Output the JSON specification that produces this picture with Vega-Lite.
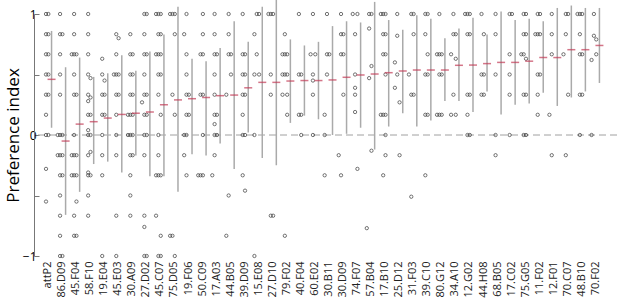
{
  "$schema": "https://vega.github.io/schema/vega-lite/v6.json",
  "width": 583,
  "height": 242,
  "autosize": "none",
  "padding": {"left": 34, "top": 14, "right": 0, "bottom": 50},
  "background": "white",
  "config": {
    "view": {"stroke": null},
    "axisX": {"labelAngle": -90, "ticks": false, "domain": false, "labelPadding": 5, "labelFont": "Open Sans", "labelFontSize": 11, "labelColor": "#222", "grid": false},
    "axisY": {"grid": false, "tickSize": -5, "tickColor": "#777", "domainColor": "#777", "labelFont": "Open Sans", "labelFontSize": 12, "labelColor": "#000", "labelPadding": 3, "titleFont": "Open Sans", "titleFontSize": 17, "titleFontWeight": "normal", "titleColor": "#000", "titleX": -21, "titleY": 121, "titleAngle": -90, "titleAlign": "center", "titleBaseline": "middle"}
  },
  "datasets": {
    "sum": [
      {"g":"attP2","m":0.46,"lo":0.06,"hi":0.86},
      {"g":"86.D09","m":-0.05,"lo":-0.66,"hi":0.56},
      {"g":"45.F04","m":0.09,"lo":-0.47,"hi":0.64},
      {"g":"58.F10","m":0.11,"lo":-0.24,"hi":0.48},
      {"g":"19.E04","m":0.14,"lo":-0.22,"hi":0.51},
      {"g":"45.E03","m":0.17,"lo":-0.31,"hi":0.66},
      {"g":"30.A09","m":0.18,"lo":-0.17,"hi":0.53},
      {"g":"27.D02","m":0.19,"lo":-0.34,"hi":0.69},
      {"g":"45.C07","m":0.25,"lo":-0.34,"hi":0.83},
      {"g":"75.D05","m":0.29,"lo":-0.47,"hi":1.06},
      {"g":"19.F06","m":0.30,"lo":-0.16,"hi":0.63},
      {"g":"50.C09","m":0.31,"lo":-0.17,"hi":0.61},
      {"g":"17.A03","m":0.325,"lo":-0.07,"hi":0.72},
      {"g":"44.B05","m":0.33,"lo":-0.28,"hi":0.94},
      {"g":"39.D09","m":0.39,"lo":0.02,"hi":0.77},
      {"g":"15.E08","m":0.435,"lo":-0.19,"hi":1.06},
      {"g":"27.D10","m":0.435,"lo":-0.25,"hi":1.12},
      {"g":"79.F02","m":0.446,"lo":0.10,"hi":0.79},
      {"g":"40.F04","m":0.45,"lo":0.16,"hi":0.74},
      {"g":"60.E02","m":0.45,"lo":0.13,"hi":0.77},
      {"g":"30.B11","m":0.455,"lo":0.0,"hi":0.9},
      {"g":"30.D09","m":0.477,"lo":0.01,"hi":0.94},
      {"g":"74.F07","m":0.496,"lo":0.06,"hi":0.93},
      {"g":"57.B04","m":0.504,"lo":-0.12,"hi":1.10},
      {"g":"17.B10","m":0.515,"lo":0.07,"hi":0.95},
      {"g":"25.D12","m":0.529,"lo":0.18,"hi":0.87},
      {"g":"31.F03","m":0.537,"lo":0.07,"hi":0.99},
      {"g":"39.C10","m":0.537,"lo":0.12,"hi":0.96},
      {"g":"80.G12","m":0.537,"lo":0.28,"hi":0.80},
      {"g":"34.A10","m":0.576,"lo":0.28,"hi":0.88},
      {"g":"12.G02","m":0.578,"lo":0.19,"hi":0.97},
      {"g":"44.H08","m":0.59,"lo":0.36,"hi":0.83},
      {"g":"68.B05","m":0.60,"lo":0.17,"hi":1.02},
      {"g":"17.C02","m":0.60,"lo":0.25,"hi":0.95},
      {"g":"75.G05","m":0.61,"lo":0.26,"hi":0.96},
      {"g":"11.F02","m":0.64,"lo":0.35,"hi":0.94},
      {"g":"12.F01","m":0.64,"lo":0.24,"hi":1.05},
      {"g":"70.C07","m":0.705,"lo":0.31,"hi":1.07},
      {"g":"48.B10","m":0.705,"lo":0.36,"hi":1.05},
      {"g":"70.F02","m":0.74,"lo":0.43,"hi":1.05}
    ],
    "pts": [
      {"g":"attP2","v":1,"k":1},{"g":"attP2","v":1,"k":2},{"g":"attP2","v":0.833,"k":1},{"g":"attP2","v":0.833,"k":2},{"g":"attP2","v":0.667,"k":1},{"g":"attP2","v":0.667,"k":2},{"g":"attP2","v":0.5,"k":1},{"g":"attP2","v":0.5,"k":2},{"g":"attP2","v":0.333,"k":1},{"g":"attP2","v":0.333,"k":2},{"g":"attP2","v":0.167,"k":1},{"g":"attP2","v":0,"k":1},{"g":"attP2","v":0,"k":2},{"g":"attP2","v":-0.28,"k":1},{"g":"attP2","v":-0.55,"k":1},
      {"g":"86.D09","v":1,"k":1},{"g":"86.D09","v":0.833,"k":1},{"g":"86.D09","v":0.833,"k":2},{"g":"86.D09","v":0.667,"k":1},{"g":"86.D09","v":0.5,"k":1},{"g":"86.D09","v":0.333,"k":1},{"g":"86.D09","v":0,"k":1},{"g":"86.D09","v":0,"k":2},{"g":"86.D09","v":0,"k":3},{"g":"86.D09","v":-0.167,"k":1},{"g":"86.D09","v":-0.167,"k":2},{"g":"86.D09","v":-0.167,"k":3},{"g":"86.D09","v":-0.333,"k":1},{"g":"86.D09","v":-0.333,"k":2},{"g":"86.D09","v":-0.5,"k":1},{"g":"86.D09","v":-0.667,"k":1},{"g":"86.D09","v":-0.833,"k":1},{"g":"86.D09","v":-1,"k":1},{"g":"86.D09","v":-1,"k":2},
      {"g":"45.F04","v":1,"k":1},{"g":"45.F04","v":0.833,"k":1},{"g":"45.F04","v":0.667,"k":1},{"g":"45.F04","v":0.667,"k":2},{"g":"45.F04","v":0.667,"k":3},{"g":"45.F04","v":0.5,"k":1},{"g":"45.F04","v":0.333,"k":1},{"g":"45.F04","v":0.333,"k":2},{"g":"45.F04","v":0,"k":1},{"g":"45.F04","v":-0.167,"k":1},{"g":"45.F04","v":-0.167,"k":2},{"g":"45.F04","v":-0.167,"k":3},{"g":"45.F04","v":-0.333,"k":1},{"g":"45.F04","v":-0.333,"k":2},{"g":"45.F04","v":-0.333,"k":3},{"g":"45.F04","v":-0.55,"k":2},{"g":"45.F04","v":-0.667,"k":1},{"g":"45.F04","v":-0.833,"k":1},{"g":"45.F04","v":-0.833,"k":2},
      {"g":"58.F10","v":1,"k":1},{"g":"58.F10","v":0.833,"k":1},{"g":"58.F10","v":0.667,"k":1},{"g":"58.F10","v":0.5,"k":1},{"g":"58.F10","v":0.47,"k":2},{"g":"58.F10","v":0.333,"k":1},{"g":"58.F10","v":0.31,"k":2},{"g":"58.F10","v":0.28,"k":1},{"g":"58.F10","v":0.167,"k":1},{"g":"58.F10","v":0.167,"k":2},{"g":"58.F10","v":0.04,"k":1},{"g":"58.F10","v":0,"k":1},{"g":"58.F10","v":0,"k":2},{"g":"58.F10","v":-0.14,"k":2},{"g":"58.F10","v":-0.167,"k":1},{"g":"58.F10","v":-0.31,"k":1},{"g":"58.F10","v":-0.333,"k":1},{"g":"58.F10","v":-0.333,"k":2},{"g":"58.F10","v":-0.5,"k":1},{"g":"58.F10","v":-0.667,"k":1},
      {"g":"19.E04","v":0.63,"k":1},{"g":"19.E04","v":0.5,"k":1},{"g":"19.E04","v":0.45,"k":2},{"g":"19.E04","v":0.333,"k":1},{"g":"19.E04","v":0.333,"k":2},{"g":"19.E04","v":0.167,"k":1},{"g":"19.E04","v":0.167,"k":2},{"g":"19.E04","v":0,"k":1},{"g":"19.E04","v":-0.167,"k":1},{"g":"19.E04","v":-0.333,"k":1},{"g":"19.E04","v":-1,"k":1},
      {"g":"45.E03","v":0.833,"k":1},{"g":"45.E03","v":0.8,"k":2},{"g":"45.E03","v":0.667,"k":1},{"g":"45.E03","v":0.5,"k":1},{"g":"45.E03","v":0.5,"k":2},{"g":"45.E03","v":0.5,"k":3},{"g":"45.E03","v":0.333,"k":1},{"g":"45.E03","v":0.333,"k":2},{"g":"45.E03","v":0.167,"k":1},{"g":"45.E03","v":0,"k":1},{"g":"45.E03","v":-0.167,"k":1},{"g":"45.E03","v":-0.667,"k":1},{"g":"45.E03","v":-1,"k":1},
      {"g":"30.A09","v":0.833,"k":1},{"g":"30.A09","v":0.667,"k":1},{"g":"30.A09","v":0.667,"k":2},{"g":"30.A09","v":0.5,"k":1},{"g":"30.A09","v":0.5,"k":2},{"g":"30.A09","v":0.333,"k":1},{"g":"30.A09","v":0.333,"k":2},{"g":"30.A09","v":0.167,"k":1},{"g":"30.A09","v":0.167,"k":2},{"g":"30.A09","v":0.167,"k":3},{"g":"30.A09","v":0,"k":1},{"g":"30.A09","v":0,"k":2},{"g":"30.A09","v":0,"k":3},{"g":"30.A09","v":-0.167,"k":1},{"g":"30.A09","v":-0.167,"k":2},{"g":"30.A09","v":-0.333,"k":1},{"g":"30.A09","v":-0.5,"k":1},{"g":"30.A09","v":-0.667,"k":1},
      {"g":"27.D02","v":1,"k":1},{"g":"27.D02","v":1,"k":2},{"g":"27.D02","v":0.833,"k":1},{"g":"27.D02","v":0.667,"k":1},{"g":"27.D02","v":0.667,"k":2},{"g":"27.D02","v":0.5,"k":1},{"g":"27.D02","v":0.333,"k":1},{"g":"27.D02","v":0.333,"k":2},{"g":"27.D02","v":0.27,"k":3},{"g":"27.D02","v":0.167,"k":1},{"g":"27.D02","v":0.167,"k":2},{"g":"27.D02","v":0,"k":1},{"g":"27.D02","v":0,"k":2},{"g":"27.D02","v":-0.167,"k":1},{"g":"27.D02","v":-0.667,"k":1},{"g":"27.D02","v":-0.76,"k":1},{"g":"27.D02","v":-1,"k":1},{"g":"27.D02","v":-1,"k":2},
      {"g":"45.C07","v":1,"k":1},{"g":"45.C07","v":1,"k":2},{"g":"45.C07","v":1,"k":3},{"g":"45.C07","v":0.833,"k":1},{"g":"45.C07","v":0.833,"k":2},{"g":"45.C07","v":0.667,"k":1},{"g":"45.C07","v":0.667,"k":2},{"g":"45.C07","v":0.667,"k":3},{"g":"45.C07","v":0.5,"k":1},{"g":"45.C07","v":0.5,"k":2},{"g":"45.C07","v":0.333,"k":1},{"g":"45.C07","v":0.167,"k":2},{"g":"45.C07","v":0,"k":1},{"g":"45.C07","v":-0.167,"k":1},{"g":"45.C07","v":-0.333,"k":1},{"g":"45.C07","v":-0.333,"k":2},{"g":"45.C07","v":-0.333,"k":3},{"g":"45.C07","v":-0.667,"k":3},{"g":"45.C07","v":-0.833,"k":2},{"g":"45.C07","v":-1,"k":1},{"g":"45.C07","v":-1,"k":2},
      {"g":"75.D05","v":1,"k":1},{"g":"75.D05","v":1,"k":2},{"g":"75.D05","v":1,"k":3},{"g":"75.D05","v":0.833,"k":2},{"g":"75.D05","v":0.333,"k":1},{"g":"75.D05","v":0.167,"k":2},{"g":"75.D05","v":-0.833,"k":1},{"g":"75.D05","v":-0.833,"k":3},{"g":"75.D05","v":-1,"k":2},
      {"g":"19.F06","v":1,"k":1},{"g":"19.F06","v":0.833,"k":3},{"g":"19.F06","v":0.667,"k":1},{"g":"19.F06","v":0.5,"k":1},{"g":"19.F06","v":0.333,"k":1},{"g":"19.F06","v":0.333,"k":2},{"g":"19.F06","v":0.167,"k":1},{"g":"19.F06","v":0.167,"k":2},{"g":"19.F06","v":0,"k":1},{"g":"19.F06","v":0,"k":3},{"g":"19.F06","v":-0.167,"k":3},{"g":"19.F06","v":-0.333,"k":1},
      {"g":"50.C09","v":1,"k":2},{"g":"50.C09","v":0.833,"k":2},{"g":"50.C09","v":0.667,"k":1},{"g":"50.C09","v":0.667,"k":2},{"g":"50.C09","v":0.333,"k":1},{"g":"50.C09","v":0.333,"k":2},{"g":"50.C09","v":0,"k":2},{"g":"50.C09","v":-0.333,"k":1},{"g":"50.C09","v":-0.333,"k":2},{"g":"50.C09","v":-0.333,"k":3},
      {"g":"17.A03","v":1,"k":1},{"g":"17.A03","v":0.833,"k":1},{"g":"17.A03","v":0.667,"k":1},{"g":"17.A03","v":0.667,"k":2},{"g":"17.A03","v":0.5,"k":1},{"g":"17.A03","v":0.333,"k":1},{"g":"17.A03","v":0.167,"k":1},{"g":"17.A03","v":0.167,"k":2},{"g":"17.A03","v":0.09,"k":1},{"g":"17.A03","v":0,"k":1},{"g":"17.A03","v":0,"k":2},{"g":"17.A03","v":-0.167,"k":1},{"g":"17.A03","v":-0.333,"k":3},
      {"g":"44.B05","v":1,"k":1},{"g":"44.B05","v":0.833,"k":1},{"g":"44.B05","v":0.667,"k":1},{"g":"44.B05","v":0.667,"k":2},{"g":"44.B05","v":0.5,"k":2},{"g":"44.B05","v":0.333,"k":3},{"g":"44.B05","v":-0.5,"k":1},{"g":"44.B05","v":-0.833,"k":3},
      {"g":"39.D09","v":1,"k":1},{"g":"39.D09","v":0.667,"k":1},{"g":"39.D09","v":0.667,"k":2},{"g":"39.D09","v":0.5,"k":1},{"g":"39.D09","v":0.5,"k":2},{"g":"39.D09","v":0.333,"k":1},{"g":"39.D09","v":0.333,"k":2},{"g":"39.D09","v":0.167,"k":1},{"g":"39.D09","v":0,"k":1},{"g":"39.D09","v":0,"k":2},{"g":"39.D09","v":-0.333,"k":1},{"g":"39.D09","v":-0.46,"k":2},
      {"g":"15.E08","v":1,"k":1},{"g":"15.E08","v":1,"k":2},{"g":"15.E08","v":0.833,"k":3},{"g":"15.E08","v":0.667,"k":1},{"g":"15.E08","v":0.5,"k":3},{"g":"15.E08","v":0.5,"k":2},{"g":"15.E08","v":0,"k":3},{"g":"15.E08","v":-1,"k":3},
      {"g":"27.D10","v":1,"k":1},{"g":"27.D10","v":1,"k":2},{"g":"27.D10","v":1,"k":3},{"g":"27.D10","v":0.5,"k":1},{"g":"27.D10","v":0.333,"k":1},{"g":"27.D10","v":-0.667,"k":1},{"g":"27.D10","v":-0.667,"k":2},
      {"g":"79.F02","v":0.833,"k":1},{"g":"79.F02","v":0.667,"k":1},{"g":"79.F02","v":0.667,"k":2},{"g":"79.F02","v":0.667,"k":3},{"g":"79.F02","v":0.5,"k":1},{"g":"79.F02","v":0.5,"k":2},{"g":"79.F02","v":0.5,"k":3},{"g":"79.F02","v":0.333,"k":3},{"g":"79.F02","v":0.333,"k":2},{"g":"79.F02","v":0.167,"k":2},{"g":"79.F02","v":-0.833,"k":1},
      {"g":"40.F04","v":1,"k":1},{"g":"40.F04","v":0.5,"k":1},{"g":"40.F04","v":0.5,"k":2},{"g":"40.F04","v":0.167,"k":1},{"g":"40.F04","v":0.167,"k":2},{"g":"40.F04","v":0,"k":2},
      {"g":"60.E02","v":1,"k":1},{"g":"60.E02","v":0.667,"k":3},{"g":"60.E02","v":0.667,"k":2},{"g":"60.E02","v":0.5,"k":1},{"g":"60.E02","v":0.45,"k":1},{"g":"60.E02","v":0.333,"k":1},{"g":"60.E02","v":0,"k":1},
      {"g":"30.B11","v":1,"k":1},{"g":"30.B11","v":0.667,"k":1},{"g":"30.B11","v":0.667,"k":2},{"g":"30.B11","v":0.5,"k":1},{"g":"30.B11","v":0.167,"k":3},{"g":"30.B11","v":0,"k":3},{"g":"30.B11","v":-0.333,"k":3},
      {"g":"30.D09","v":1,"k":1},{"g":"30.D09","v":0.833,"k":1},{"g":"30.D09","v":0.833,"k":2},{"g":"30.D09","v":0.667,"k":1},{"g":"30.D09","v":0.667,"k":2},{"g":"30.D09","v":0.333,"k":2},{"g":"30.D09","v":-0.167,"k":3},{"g":"30.D09","v":-0.333,"k":1},
      {"g":"74.F07","v":1,"k":3},{"g":"74.F07","v":1,"k":2},{"g":"74.F07","v":0.833,"k":1},{"g":"74.F07","v":0.5,"k":1},{"g":"74.F07","v":0.39,"k":1},{"g":"74.F07","v":0.333,"k":1},{"g":"74.F07","v":0.19,"k":1},{"g":"74.F07","v":-0.28,"k":2},
      {"g":"57.B04","v":1,"k":1},{"g":"57.B04","v":1,"k":2},{"g":"57.B04","v":0.88,"k":1},{"g":"57.B04","v":0.57,"k":2},{"g":"57.B04","v":0.47,"k":1},{"g":"57.B04","v":-0.13,"k":2},{"g":"57.B04","v":-0.77,"k":3},
      {"g":"17.B10","v":1,"k":1},{"g":"17.B10","v":1,"k":2},{"g":"17.B10","v":1,"k":3},{"g":"17.B10","v":0.833,"k":1},{"g":"17.B10","v":0.833,"k":2},{"g":"17.B10","v":0.667,"k":1},{"g":"17.B10","v":0.667,"k":2},{"g":"17.B10","v":0.5,"k":2},{"g":"17.B10","v":0.167,"k":1},{"g":"17.B10","v":0.167,"k":2},{"g":"17.B10","v":0.167,"k":3},{"g":"17.B10","v":0,"k":2},{"g":"17.B10","v":-0.167,"k":2},{"g":"17.B10","v":-0.333,"k":1},
      {"g":"25.D12","v":1,"k":1},{"g":"25.D12","v":0.82,"k":1},{"g":"25.D12","v":0.6,"k":3},{"g":"25.D12","v":0.5,"k":1},{"g":"25.D12","v":0.39,"k":3},{"g":"25.D12","v":0.27,"k":2},{"g":"25.D12","v":-0.167,"k":2},
      {"g":"31.F03","v":1,"k":1},{"g":"31.F03","v":1,"k":2},{"g":"31.F03","v":0.833,"k":2},{"g":"31.F03","v":0.5,"k":3},{"g":"31.F03","v":0.333,"k":1},{"g":"31.F03","v":0.333,"k":2},{"g":"31.F03","v":-0.51,"k":1},
      {"g":"39.C10","v":1,"k":1},{"g":"39.C10","v":1,"k":2},{"g":"39.C10","v":0.833,"k":1},{"g":"39.C10","v":0.667,"k":2},{"g":"39.C10","v":0.5,"k":1},{"g":"39.C10","v":0.5,"k":2},{"g":"39.C10","v":0.167,"k":1},{"g":"39.C10","v":0.167,"k":2},{"g":"39.C10","v":-0.333,"k":1},
      {"g":"80.G12","v":1,"k":1},{"g":"80.G12","v":0.667,"k":1},{"g":"80.G12","v":0.667,"k":2},{"g":"80.G12","v":0.667,"k":3},{"g":"80.G12","v":0.5,"k":1},{"g":"80.G12","v":0.5,"k":2},{"g":"80.G12","v":0.167,"k":1},{"g":"80.G12","v":0.167,"k":2},{"g":"80.G12","v":0.167,"k":3},
      {"g":"34.A10","v":1,"k":1},{"g":"34.A10","v":0.833,"k":1},{"g":"34.A10","v":0.833,"k":2},{"g":"34.A10","v":0.667,"k":3},{"g":"34.A10","v":0.63,"k":2},{"g":"34.A10","v":0.333,"k":1},{"g":"34.A10","v":0.167,"k":3},{"g":"34.A10","v":0.167,"k":2},
      {"g":"12.G02","v":1,"k":1},{"g":"12.G02","v":1,"k":2},{"g":"12.G02","v":1,"k":3},{"g":"12.G02","v":0.833,"k":1},{"g":"12.G02","v":0.833,"k":2},{"g":"12.G02","v":0.333,"k":1},{"g":"12.G02","v":0.333,"k":2},{"g":"12.G02","v":0.167,"k":1},{"g":"12.G02","v":0,"k":1},{"g":"12.G02","v":0,"k":2},
      {"g":"44.H08","v":1,"k":1},{"g":"44.H08","v":0.833,"k":2},{"g":"44.H08","v":0.5,"k":1},{"g":"44.H08","v":0.5,"k":2},{"g":"44.H08","v":0.333,"k":1},{"g":"44.H08","v":0.333,"k":2},
      {"g":"68.B05","v":1,"k":1},{"g":"68.B05","v":0.833,"k":1},{"g":"68.B05","v":0.5,"k":1},{"g":"68.B05","v":0,"k":1},{"g":"68.B05","v":-0.167,"k":1},
      {"g":"17.C02","v":1,"k":1},{"g":"17.C02","v":1,"k":2},{"g":"17.C02","v":0.667,"k":1},{"g":"17.C02","v":0.5,"k":1},{"g":"17.C02","v":0.333,"k":1},{"g":"17.C02","v":0,"k":1},
      {"g":"75.G05","v":1,"k":1},{"g":"75.G05","v":1,"k":2},{"g":"75.G05","v":0.833,"k":1},{"g":"75.G05","v":0.833,"k":2},{"g":"75.G05","v":0.667,"k":3},{"g":"75.G05","v":0.667,"k":1},{"g":"75.G05","v":0.63,"k":2},{"g":"75.G05","v":0.333,"k":1},{"g":"75.G05","v":0.333,"k":2},{"g":"75.G05","v":0,"k":1},{"g":"75.G05","v":0,"k":2},
      {"g":"11.F02","v":1,"k":1},{"g":"11.F02","v":1,"k":2},{"g":"11.F02","v":0.833,"k":1},{"g":"11.F02","v":0.833,"k":2},{"g":"11.F02","v":0.833,"k":3},{"g":"11.F02","v":0.5,"k":1},{"g":"11.F02","v":0.5,"k":2},{"g":"11.F02","v":0.333,"k":1},{"g":"11.F02","v":0.167,"k":1},
      {"g":"12.F01","v":1,"k":1},{"g":"12.F01","v":0.833,"k":1},{"g":"12.F01","v":0.667,"k":1},{"g":"12.F01","v":0.167,"k":3},{"g":"12.F01","v":-0.167,"k":1},
      {"g":"70.C07","v":1,"k":1},{"g":"70.C07","v":1,"k":2},{"g":"70.C07","v":0.833,"k":1},{"g":"70.C07","v":0.667,"k":3},{"g":"70.C07","v":0.333,"k":2},{"g":"70.C07","v":-0.167,"k":1},
      {"g":"48.B10","v":1,"k":1},{"g":"48.B10","v":1,"k":2},{"g":"48.B10","v":1,"k":3},{"g":"48.B10","v":0.833,"k":1},{"g":"48.B10","v":0.667,"k":1},{"g":"48.B10","v":0.667,"k":2},{"g":"48.B10","v":0.333,"k":1},{"g":"48.B10","v":0.333,"k":2},{"g":"48.B10","v":0,"k":1},
      {"g":"70.F02","v":1,"k":1},{"g":"70.F02","v":0.82,"k":1},{"g":"70.F02","v":0.79,"k":2},{"g":"70.F02","v":0.667,"k":2},{"g":"70.F02","v":0.62,"k":3},{"g":"70.F02","v":0,"k":3}
    ]
  },
  "layer": [
    {
      "data": {"values": [{"z": 0}]},
      "mark": {"type": "rule", "color": "#a0a0a0", "strokeWidth": 1, "strokeDash": [7, 4]},
      "encoding": {
        "y": {"field": "z", "type": "quantitative", "scale": {"domain": [-1, 1], "nice": false, "zero": false}, "title": "Preference index", "axis": {"values": [-1, -0.5, 0, 0.5, 1], "format": ".0f", "labelExpr": "datum.value == 0.5 || datum.value == -0.5 ? '' : datum.label"}}
      }
    },
    {
      "data": {"name": "sum"},
      "mark": {"type": "rule", "color": "#aaaaaa", "strokeWidth": 1.5, "xOffset": 3.5},
      "encoding": {
        "x": {"field": "g", "type": "nominal", "title": null, "sort": null, "scale": {"type": "band", "paddingInner": 0, "paddingOuter": 0.75, "align": 0.3333}},
        "y": {"field": "hi", "type": "quantitative", "title": "Preference index"},
        "y2": {"field": "lo"}
      }
    },
    {
      "data": {"name": "pts"},
      "mark": {"type": "point", "filled": false, "size": 11, "strokeWidth": 0.7, "color": "#3a3a3a", "opacity": 1},
      "encoding": {
        "x": {"field": "g", "type": "nominal", "title": null, "sort": null},
        "xOffset": {"field": "k", "type": "nominal", "scale": {"type": "point", "domain": [3, 1, 2], "range": [1.5, 8.5]}},
        "y": {"field": "v", "type": "quantitative", "title": "Preference index"}
      }
    },
    {
      "data": {"name": "sum"},
      "mark": {"type": "tick", "color": "#c23b55", "thickness": 1.5, "size": 8, "xOffset": 3.5, "orient": "horizontal"},
      "encoding": {
        "x": {"field": "g", "type": "nominal", "title": null, "sort": null},
        "y": {"field": "m", "type": "quantitative", "title": "Preference index"}
      }
    }
  ]
}
